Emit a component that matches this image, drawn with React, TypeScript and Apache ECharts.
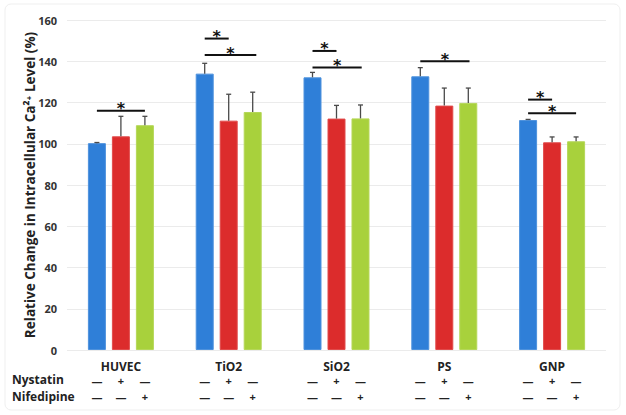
import React, { useEffect, useRef } from "react";
import * as echarts from "echarts";

const CATEGORIES = ["HUVEC", "TiO2", "SiO2", "PS", "GNP"];
const CONTROL = [100.3, 134, 132.2, 132.7, 111.5];
const NYSTATIN = [103.6, 111.2, 112.2, 118.5, 100.7];
const NIFEDIPINE = [109, 115.4, 112.3, 119.8, 101.2];
const CONTROL_ERR = [100.6, 139, 134.6, 136.9, 111.8];
const NYSTATIN_ERR = [113.3, 124, 118.6, 127, 103.3];
const NIFEDIPINE_ERR = [113.3, 125, 118.8, 127, 103.3];
const Y_TICKS = [0, 20, 40, 60, 80, 100, 120, 140, 160];
// [category index, y value, from bar (-1..1), to bar]
const SIG_LINES = [
  [0, 116, -1, 1],
  [1, 151, -1, 0],
  [1, 143, -1, 1.15],
  [2, 145, -1, 0],
  [2, 137, -1, 1.05],
  [3, 140, -1, 1.05],
  [4, 121.4, -1, 0],
  [4, 114.8, -1, 1],
];
const NYSTATIN_SIGNS = ["—", "+", "—"];
const NIFEDIPINE_SIGNS = ["—", "—", "+"];
const ROW_LABELS = ["Nystatin", "Nifedipine"];

const COLORS = ["#2f7fd8", "#dc2c2c", "#a8d13c"];
const BAR_W = 18;
const BAR_STEP = 24;

export default function App() {
  const ref = useRef<HTMLDivElement>(null);
  useEffect(() => {
    const chart = echarts.init(ref.current!, null, { renderer: "svg" });
    const values = [CONTROL, NYSTATIN, NIFEDIPINE];
    const errs = [CONTROL_ERR, NYSTATIN_ERR, NIFEDIPINE_ERR];
    const errData: number[][] = [];
    errs.forEach((arr, b) =>
      arr.forEach((v, c) => errData.push([c, values[b][c], v, b - 1]))
    );
    const signData: number[][] = [];
    CATEGORIES.forEach((_, c) => [0, 1, 2].forEach((b) => signData.push([c, b])));
    const font = "'Open Sans', 'DejaVu Sans', sans-serif";

    chart.setOption({
      animation: false,
      grid: { left: 67, right: 20, top: 20, bottom: 65 },
      xAxis: {
        type: "category",
        data: CATEGORIES,
        axisLine: { show: false },
        axisTick: { show: false },
        axisLabel: {
          fontWeight: "bold",
          fontSize: 12,
          lineHeight: 12,
          color: "#222",
          margin: 10,
          fontFamily: font,
        },
      },
      yAxis: {
        type: "value",
        min: 0,
        max: 160,
        interval: 20,
        axisLine: { show: false },
        axisTick: { show: false },
        splitLine: { lineStyle: { color: "#ebebeb", width: 1 } },
        axisLabel: {
          fontWeight: "bold",
          fontSize: 11,
          color: "#333",
          margin: 10,
          fontFamily: font,
          formatter: (v: number) => (Y_TICKS.includes(v) ? String(v) : ""),
        },
        name: "Relative Change in Intracellular Ca²⁺ Level (%)",
        nameLocation: "middle",
        nameGap: 30,
        nameMoveOverlap: false,
        nameTextStyle: {
          fontWeight: "bold",
          fontSize: 13.5,
          color: "#222",
          fontFamily: font,
        },
      },
      graphic: [
        {
          type: "rect",
          shape: { x: 5, y: 4, width: 615, height: 406, r: 6 },
          style: { fill: "none", stroke: "#efefef", lineWidth: 1 },
          silent: true,
          z: -10,
        },
        ...ROW_LABELS.map((t, i) => ({
          type: "text",
          left: 12,
          top: 373 + i * 17,
          style: {
            text: t,
            fontWeight: "bold",
            fontSize: 12,
            lineHeight: 12,
            fill: "#222",
            fontFamily: font,
          },
        })),
      ],
      series: [
        ...values.map((d, i) => ({
          type: "bar",
          data: d,
          barWidth: BAR_W,
          barGap: "33.3%",
          itemStyle: {
            color: COLORS[i],
            borderColor: echarts.color.lift(COLORS[i], 0.15),
            borderWidth: 1,
          },
        })),
        {
          type: "custom",
          data: errData,
          z: 5,
          renderItem: (params: any, api: any) => {
            const c = api.value(0);
            const off = api.value(3) * BAR_STEP;
            const p0 = api.coord([c, api.value(1)]);
            const p1 = api.coord([c, api.value(2)]);
            const x = p0[0] + off;
            const st = { stroke: "#4a4a4a", lineWidth: 1.3 };
            return {
              type: "group",
              children: [
                { type: "line", shape: { x1: x, y1: p0[1], x2: x, y2: p1[1] }, style: st },
                { type: "line", shape: { x1: x - 2.5, y1: p1[1], x2: x + 2.5, y2: p1[1] }, style: st },
              ],
            };
          },
        },
        {
          type: "custom",
          data: SIG_LINES,
          z: 5,
          renderItem: (params: any, api: any) => {
            const c = api.value(0);
            const p = api.coord([c, api.value(1)]);
            const x1 = p[0] + api.value(2) * BAR_STEP;
            const x2 = p[0] + api.value(3) * BAR_STEP;
            return {
              type: "group",
              children: [
                {
                  type: "line",
                  shape: { x1, y1: p[1], x2, y2: p[1] },
                  style: { stroke: "#111", lineWidth: 2 },
                },
                {
                  type: "text",
                  x: (x1 + x2) / 2,
                  y: p[1] - 2,
                  style: {
                    text: "*",
                    fontSize: 16,
                    fontWeight: "bold",
                    fill: "#111",
                    align: "center",
                    verticalAlign: "middle",
                    fontFamily: "'DejaVu Sans', sans-serif",
                  },
                },
              ],
            };
          },
        },
        {
          type: "custom",
          data: signData,
          clip: false,
          renderItem: (params: any, api: any) => {
            const c = api.value(0);
            const b = api.value(1);
            const p = api.coord([c, 0]);
            const x = p[0] + (b - 1) * BAR_STEP;
            const mk = (t: string, y: number) => ({
              type: "text",
              x,
              y,
              style: {
                text: t,
                fontSize: 11,
                lineHeight: 11,
                fontWeight: "bold",
                fill: "#222",
                align: "center",
                verticalAlign: "middle",
                fontFamily: font,
              },
            });
            return {
              type: "group",
              children: [mk(NYSTATIN_SIGNS[b], p[1] + 30.5), mk(NIFEDIPINE_SIGNS[b], p[1] + 46.5)],
            };
          },
        },
      ],
    });
    return () => chart.dispose();
  }, []);
  return (
    <div
      ref={ref}
      style={{ position: "fixed", left: 0, top: 0, width: 626, height: 415, background: "#fff" }}
    />
  );
}
